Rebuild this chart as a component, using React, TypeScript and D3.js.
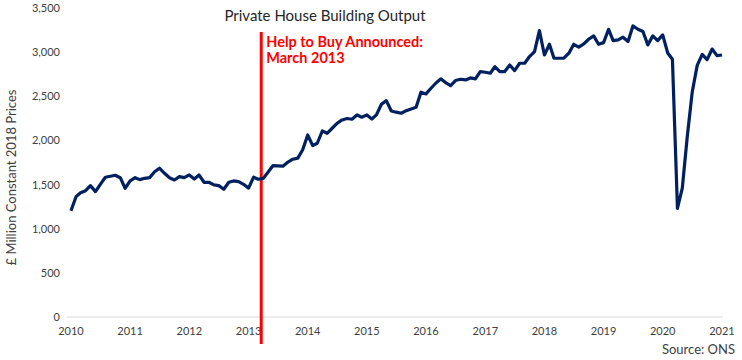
// Private house building output, monthly, with the Help to Buy announcement marked.
import React, { useEffect, useRef } from 'react';
import * as d3 from 'd3';

const WIDTH = 742;
const HEIGHT = 360;
const LEFT = 71;
const RIGHT = 722;
const TOP = 8;
const BOTTOM = 317;
const FONT = 'Lato, "Open Sans", sans-serif';

const START_YEAR = 2010;

// £ million, constant 2018 prices, Jan 2010 .. Jan 2021
const output2010 = [1204, 1363, 1408, 1431, 1488, 1420, 1503, 1583, 1594, 1605, 1578, 1458];
const output2011 = [1541, 1578, 1556, 1571, 1578, 1646, 1685, 1628, 1578, 1552, 1590, 1578];
const output2012 = [1609, 1563, 1609, 1526, 1526, 1496, 1488, 1447, 1526, 1541, 1533, 1503];
const output2013 = [1460, 1585, 1560, 1570, 1640, 1715, 1712, 1708, 1755, 1787, 1800, 1895];
const output2014 = [2062, 1941, 1968, 2107, 2081, 2138, 2194, 2232, 2248, 2240, 2289, 2263];
const output2015 = [2289, 2243, 2289, 2410, 2451, 2334, 2320, 2308, 2337, 2357, 2376, 2546];
const output2016 = [2527, 2591, 2648, 2697, 2655, 2621, 2678, 2693, 2685, 2708, 2697, 2780];
const output2017 = [2772, 2761, 2836, 2780, 2780, 2855, 2791, 2874, 2874, 2950, 3006, 3244];
const output2018 = [2968, 3089, 2931, 2931, 2931, 2988, 3089, 3056, 3093, 3146, 3184, 3089];
const output2019 = [3108, 3259, 3130, 3138, 3169, 3120, 3297, 3259, 3233, 3082, 3184, 3130];
const output2020 = [3195, 2990, 2920, 1231, 1460, 2050, 2545, 2850, 2975, 2915, 3035, 2960];
const output2021 = [2968];

const yearTicks = ['2010', '2011', '2012', '2013', '2014', '2015', '2016', '2017', '2018', '2019', '2020', '2021'];
const valueTicks = [0, 500, 1000, 1500, 2000, 2500, 3000, 3500];

const helpToBuyDate = new Date(2013, 2, 20);
const annotationLines = ['Help to Buy Announced:', 'March 2013'];

const App = () => {
  const svgRef = useRef<SVGSVGElement>(null);

  useEffect(() => {
    const svg = d3.select(svgRef.current).attr('width', WIDTH).attr('height', HEIGHT);
    svg.selectAll('*').remove();

    const values = [
      ...output2010, ...output2011, ...output2012, ...output2013, ...output2014, ...output2015,
      ...output2016, ...output2017, ...output2018, ...output2019, ...output2020, ...output2021,
    ];
    const series = values.map((v, i) => ({ date: new Date(START_YEAR, i, 1), value: v }));

    const x = d3
      .scaleTime()
      .domain([new Date(+yearTicks[0], 0, 1), new Date(+yearTicks[yearTicks.length - 1], 0, 1)])
      .range([LEFT, RIGHT]);
    const y = d3.scaleLinear().domain([0, 3500]).range([BOTTOM, TOP]);

    // baseline
    svg
      .append('line')
      .attr('x1', LEFT - 4)
      .attr('x2', RIGHT + 1)
      .attr('y1', y(0))
      .attr('y2', y(0))
      .attr('stroke', '#d9d9d9')
      .attr('stroke-width', 1);

    // y tick labels
    svg
      .append('g')
      .selectAll('text')
      .data(valueTicks)
      .enter()
      .append('text')
      .attr('x', 60)
      .attr('y', (d) => y(d) + 4)
      .attr('text-anchor', 'end')
      .attr('font-family', FONT)
      .attr('font-size', '11px')
      .attr('fill', '#404040')
      .text((d) => d3.format(',')(d));

    // x tick labels
    svg
      .append('g')
      .selectAll('text')
      .data(yearTicks)
      .enter()
      .append('text')
      .attr('x', (d) => x(new Date(+d, 0, 1)))
      .attr('y', 335)
      .attr('text-anchor', 'middle')
      .attr('font-family', FONT)
      .attr('font-size', '11px')
      .attr('fill', '#404040')
      .text((d) => d);

    // Help to Buy marker
    svg
      .append('line')
      .attr('x1', x(helpToBuyDate))
      .attr('x2', x(helpToBuyDate))
      .attr('y1', 32)
      .attr('y2', 344)
      .attr('stroke', '#ff0000')
      .attr('stroke-width', 3);

    svg
      .append('g')
      .selectAll('text')
      .data(annotationLines)
      .enter()
      .append('text')
      .attr('x', x(helpToBuyDate) + 5)
      .attr('y', (_, i) => 47 + i * 16)
      .attr('font-family', FONT)
      .attr('font-size', '14.5px')
      .attr('font-weight', 'bold')
      .attr('fill', '#ff0000')
      .text((d) => d);

    // output line
    const line = d3
      .line<{ date: Date; value: number }>()
      .x((d) => x(d.date))
      .y((d) => y(d.value));
    svg
      .append('path')
      .datum(series)
      .attr('fill', 'none')
      .attr('stroke', '#002060')
      .attr('stroke-width', 3.2)
      .attr('stroke-linejoin', 'round')
      .attr('d', line);

    // title
    svg
      .append('text')
      .attr('x', 325)
      .attr('y', 21)
      .attr('text-anchor', 'middle')
      .attr('font-family', FONT)
      .attr('font-size', '15px')
      .attr('fill', '#262626')
      .text('Private House Building Output');

    // y axis title
    svg
      .append('text')
      .attr('transform', `translate(16,${(TOP + BOTTOM) / 2 + 15}) rotate(-90)`)
      .attr('text-anchor', 'middle')
      .attr('font-family', FONT)
      .attr('font-size', '13px')
      .attr('fill', '#404040')
      .text('£ Million Constant 2018 Prices');

    // source
    svg
      .append('text')
      .attr('x', 735)
      .attr('y', 354)
      .attr('text-anchor', 'end')
      .attr('font-family', FONT)
      .attr('font-size', '13px')
      .attr('fill', '#404040')
      .text('Source: ONS');
  }, []);

  return <svg ref={svgRef} style={{ position: 'absolute', left: 0, top: 0, display: 'block' }} />;
};

export default App;
